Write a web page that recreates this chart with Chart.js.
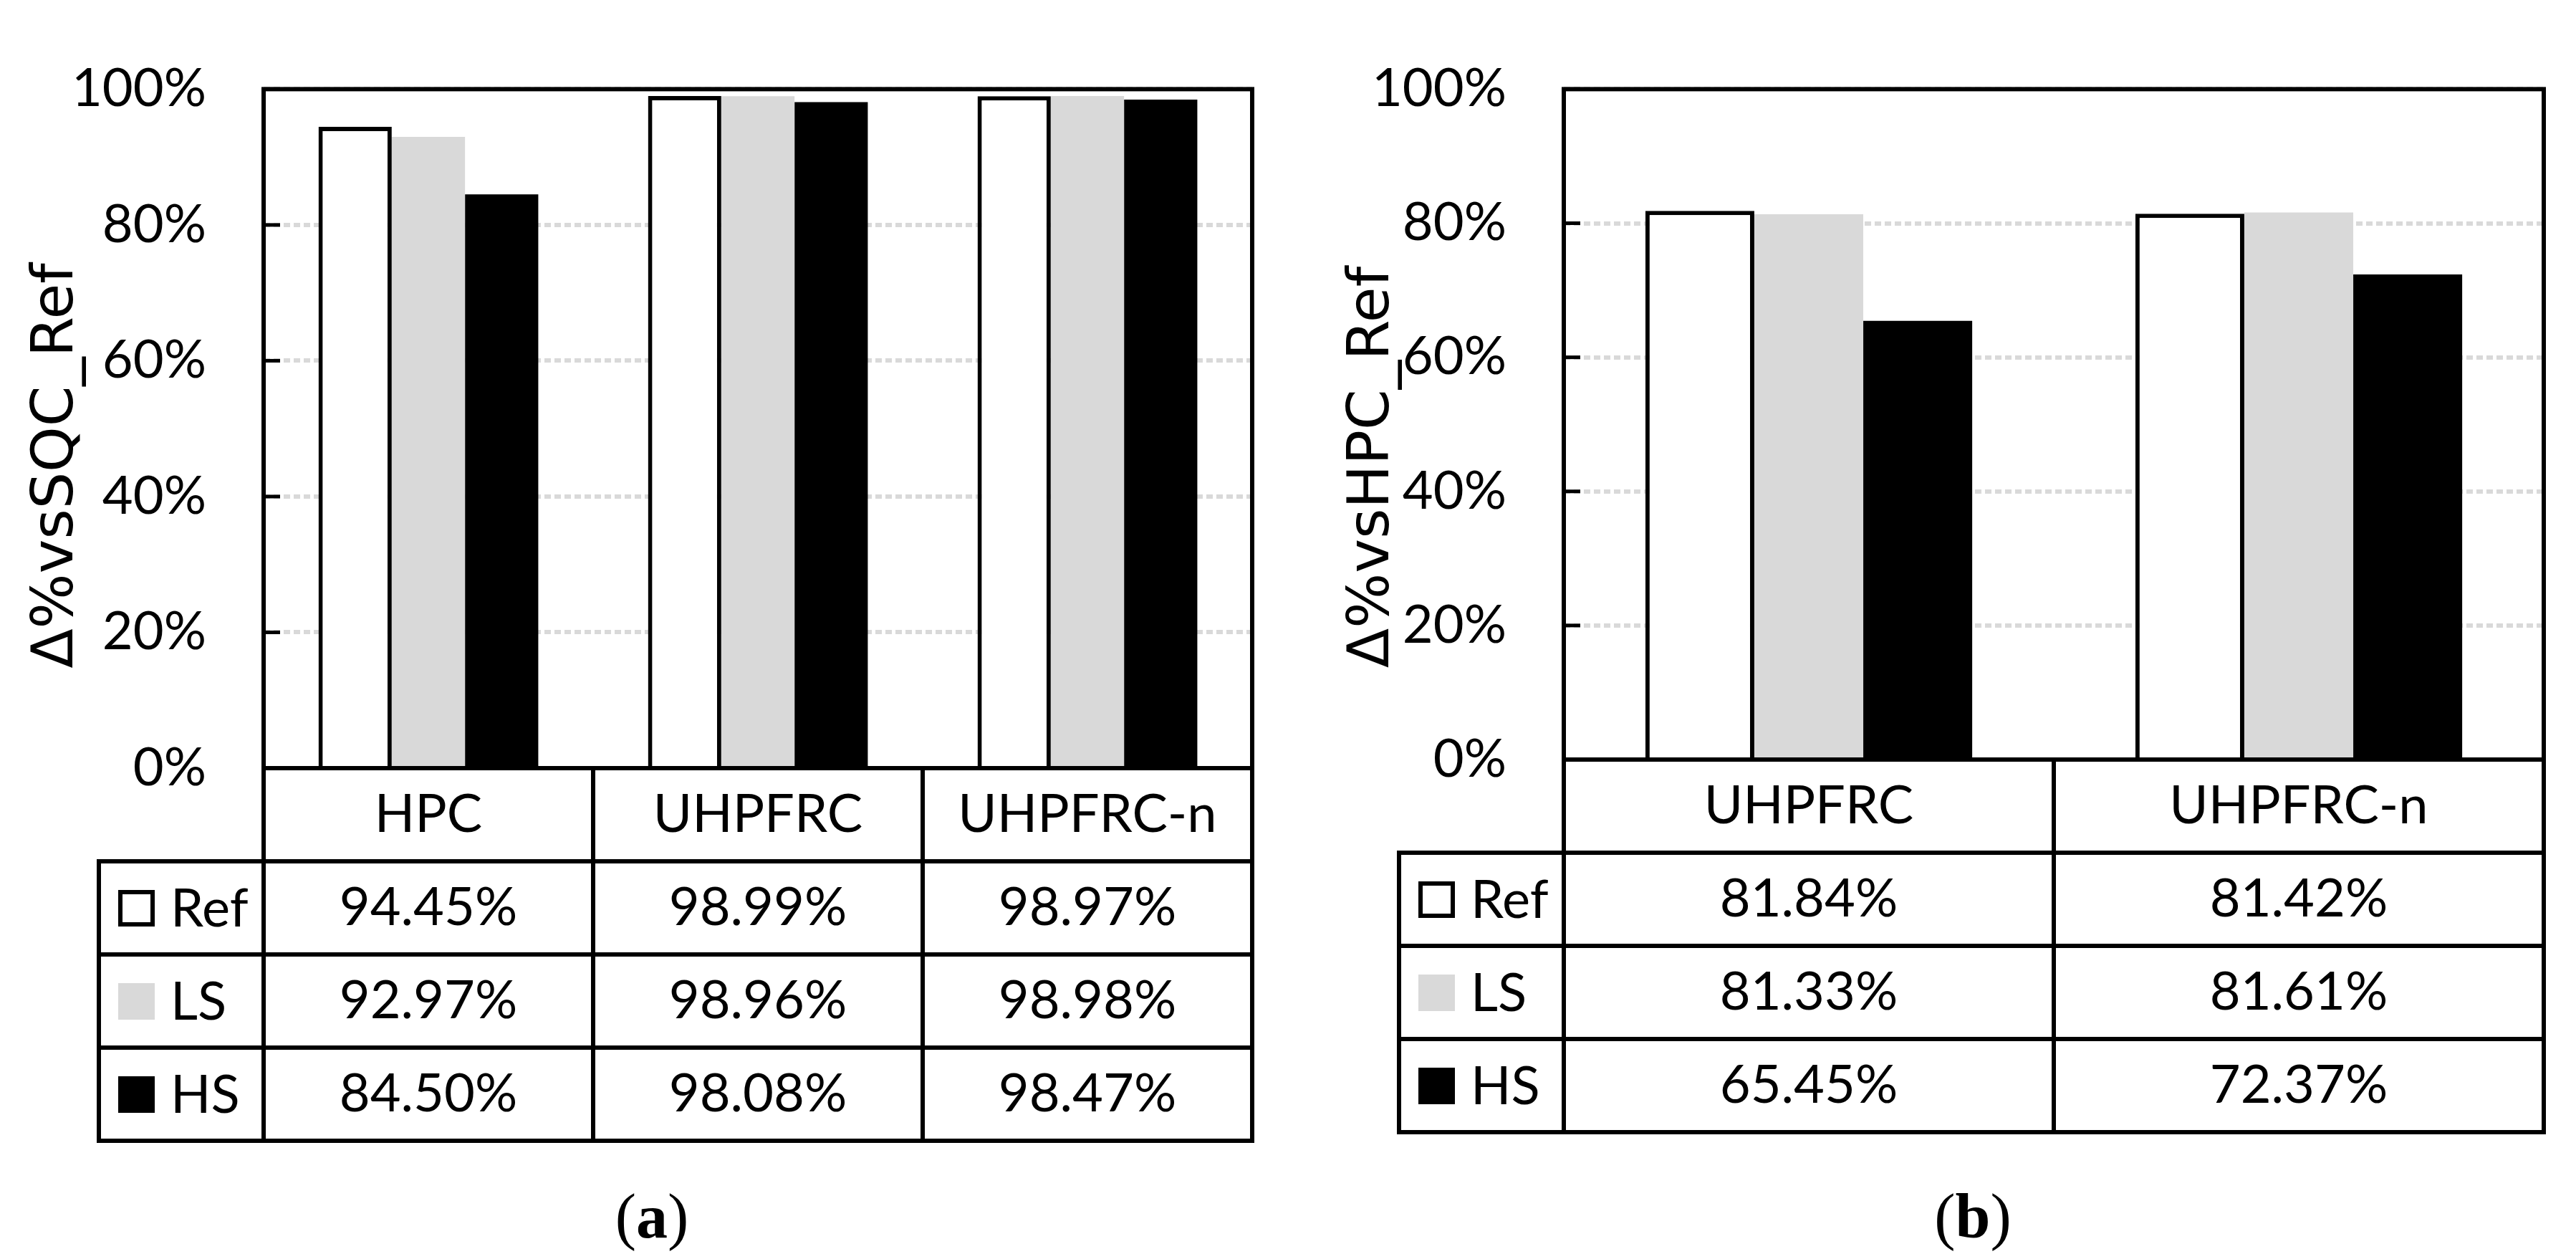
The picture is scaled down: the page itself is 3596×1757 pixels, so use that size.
<!DOCTYPE html>
<html>
<head>
<meta charset="utf-8">
<script src="https://cdn.jsdelivr.net/npm/chart.js@4.4.1/dist/chart.umd.min.js"></script>
<style>
    html, body { margin: 0; padding: 0; background: #fff; }
    #page { position: relative; width: 3596px; height: 1757px; background: #fff; overflow: hidden; }
    canvas { position: absolute; top: 0; }
    #chartA { left: 0; width: 1800px; height: 1640px; }
    #chartB { left: 1800px; width: 1796px; height: 1640px; }
    .caption { position: absolute; top: 1648px; width: 200px; text-align: center; color: #000;
               font-family: "Liberation Serif", "DejaVu Serif", serif; font-size: 88px; line-height: 100px; }
</style>
</head>
<body>
<div id="page">
    <canvas id="chartA" width="1800" height="1640"></canvas>
    <canvas id="chartB" width="1796" height="1640"></canvas>
    <div class="caption" style="left:810px">(<b>a</b>)</div>
    <div class="caption" style="left:2654px">(<b>b</b>)</div>
</div>
<script>
// chart (a): relative to SQC_Ref
const categoriesA = ['HPC', 'UHPFRC', 'UHPFRC-n'];
const refA = [94.45, 98.99, 98.97];
const lsA = [92.97, 98.96, 98.98];
const hsA = [84.50, 98.08, 98.47];

// chart (b): relative to HPC_Ref
const categoriesB = ['UHPFRC', 'UHPFRC-n'];
const refB = [81.84, 81.42];
const lsB = [81.33, 81.61];
const hsB = [65.45, 72.37];

const seriesNames = ['Ref', 'LS', 'HS'];
const yTicks = [0, 20, 40, 60, 80, 100];

const FONT = 'Lato';
const FONT_SIZE = 74;
const TITLE_FONT = '81px "DejaVu Sans"';

Chart.defaults.color = '#000';
Chart.defaults.font.family = FONT;

// frame, inside tick marks, axis title and the data table under the plot
const frameAndTable = {
    id: 'frameAndTable',
    afterDatasetsDraw(chart) {
        let ctx = chart.ctx;
        let area = chart.chartArea;
        let y = chart.scales.y;
        ctx.save();
        ctx.strokeStyle = '#000';
        ctx.lineWidth = 5;
        yTicks.forEach(function (v) {
            let py = y.getPixelForValue(v);
            ctx.beginPath();
            ctx.moveTo(area.left, py);
            ctx.lineTo(area.left + 23, py);
            ctx.stroke();
        });
        ctx.lineWidth = 6;
        ctx.strokeRect(area.left, area.top, area.right - area.left, area.bottom - area.top);
        ctx.restore();
    },
    afterDraw(chart, args, opts) {
        let ctx = chart.ctx;
        let area = chart.chartArea;
        let labels = chart.data.labels;
        let sets = chart.data.datasets;
        let colW = (area.right - area.left) / labels.length;
        let rowH = opts.rowH;
        let tableLeft = area.left - opts.legendW;
        let headBottom = area.bottom + rowH;
        let tableBottom = headBottom + rowH * sets.length;

        ctx.save();

        // y axis title (Excel centres it lower than the plot middle)
        ctx.save();
        ctx.translate(opts.titleX, opts.titleY);
        ctx.rotate(-Math.PI / 2);
        ctx.font = TITLE_FONT;
        ctx.fillStyle = '#000';
        ctx.textAlign = 'center';
        ctx.textBaseline = 'middle';
        ctx.fillText(opts.title, 0, 0);
        ctx.restore();

        ctx.strokeStyle = '#000';
        ctx.lineWidth = 6;
        ctx.lineCap = 'square';

        function line(x1, y1, x2, y2) {
            ctx.beginPath();
            ctx.moveTo(x1, y1);
            ctx.lineTo(x2, y2);
            ctx.stroke();
        }

        // horizontal rules
        for (let r = 0; r <= sets.length; r++) {
            let yy = headBottom + r * rowH;
            line(tableLeft, yy, area.right, yy);
        }
        // vertical rules
        line(tableLeft, headBottom, tableLeft, tableBottom);
        for (let c = 0; c <= labels.length; c++) {
            let xx = area.left + c * colW;
            line(xx, area.bottom, xx, tableBottom);
        }

        ctx.fillStyle = '#000';
        ctx.font = FONT_SIZE + 'px ' + FONT;
        ctx.textBaseline = 'middle';
        ctx.textAlign = 'center';

        // header
        labels.forEach(function (lab, c) {
            ctx.fillText(lab, area.left + (c + 0.5) * colW, area.bottom + rowH / 2);
        });

        // rows
        sets.forEach(function (ds, r) {
            let cy = headBottom + (r + 0.5) * rowH;
            ds.data.forEach(function (v, c) {
                ctx.textAlign = 'center';
                ctx.fillStyle = '#000';
                ctx.fillText(v.toFixed(2) + '%', area.left + (c + 0.5) * colW, cy);
            });
            // legend key
            let kx = tableLeft + 27;
            let ky = cy - 25;
            ctx.fillStyle = ds.backgroundColor;
            ctx.fillRect(kx, ky, 51, 51);
            if (ds.borderWidth) {
                ctx.lineWidth = 6;
                ctx.strokeRect(kx + 3, ky + 3, 45, 45);
            }
            ctx.fillStyle = '#000';
            ctx.textAlign = 'left';
            ctx.fillText(ds.label, tableLeft + 100, cy + 2);
        });
        ctx.restore();
    }
};

function buildChart(canvasId, categories, ref, ls, hs, yTitle, box) {
    return new Chart(canvasId, {
        type: 'bar',
        plugins: [frameAndTable],
        data: {
            labels: categories,
            datasets: [{
                label: seriesNames[0],
                data: ref,
                backgroundColor: '#ffffff',
                borderColor: '#000000',
                borderWidth: 6
            }, {
                label: seriesNames[1],
                data: ls,
                backgroundColor: '#d9d9d9',
                borderWidth: 0
            }, {
                label: seriesNames[2],
                data: hs,
                backgroundColor: '#000000',
                borderWidth: 0
            }]
        },
        options: {
            responsive: false,
            animation: false,
            layout: {
                padding: { left: 0, top: box.top, right: box.right, bottom: box.bottom }
            },
            datasets: {
                bar: { categoryPercentage: 0.667, barPercentage: 1.0 }
            },
            scales: {
                x: { display: false },
                y: {
                    min: 0,
                    max: 100,
                    afterBuildTicks: function (scale) {
                        scale.ticks = yTicks.map(v => ({ value: v }));
                    },
                    afterFit: function (scale) {
                        scale.width = box.axisW;
                    },
                    ticks: {
                        padding: 80,
                        color: '#000',
                        font: { family: FONT, size: FONT_SIZE },
                        callback: v => v + '%'
                    },
                    grid: { color: '#d9d9d9', lineWidth: 6, drawTicks: false },
                    border: { display: false, dash: [9, 5] },
                    title: { display: false }
                }
            },
            plugins: {
                legend: { display: false },
                tooltip: { enabled: false },
                frameAndTable: {
                    rowH: 130,
                    legendW: 230,
                    title: yTitle,
                    titleX: box.titleX,
                    titleY: box.titleY
                }
            }
        }
    });
}

buildChart('chartA', categoriesA, refA, lsA, hsA, 'Δ%vsSQC_Ref',
    { top: 56, right: 52, bottom: 568, axisW: 368, titleX: 80, titleY: 650 });
buildChart('chartB', categoriesB, refB, lsB, hsB, 'Δ%vsHPC_Ref',
    { top: 66, right: 45, bottom: 580, axisW: 383, titleX: 117, titleY: 652 });
</script>
</body>
</html>
